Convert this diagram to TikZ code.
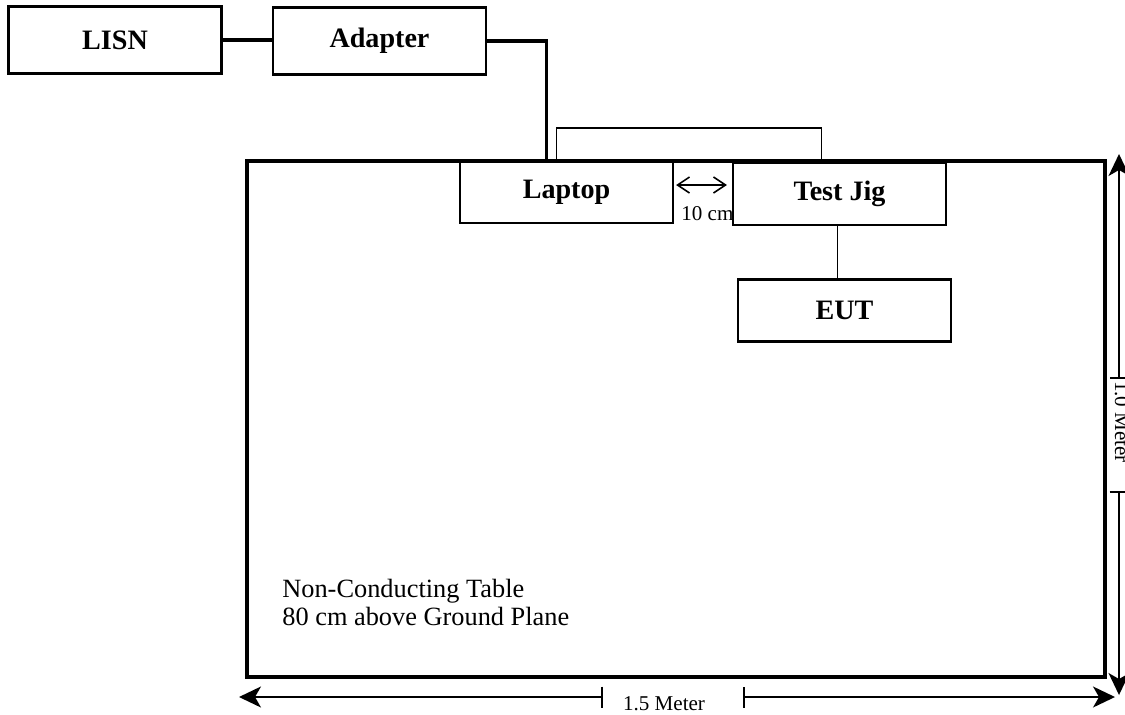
\documentclass[tikz,border=0pt]{standalone}
\usepackage{fontspec}
\setmainfont{Liberation Serif}
\usetikzlibrary{arrows.meta,positioning,calc}

\begin{document}
\begin{tikzpicture}[
    x=0.02cm, y=-0.02cm,
    box/.style={draw=black, line width=1.3pt, minimum width=4.26cm, minimum height=1.24cm,
                inner sep=0pt, font=\fontsize{16}{18}\selectfont\bfseries},
    wire/.style={line width=1.8pt},
    thinwire/.style={line width=1.1pt},
    dim/.style={line width=0.9pt},
    dimtip/.tip={Stealth[length=0.44cm, width=0.42cm, inset=0.12cm]},
    dimlabel/.style={font=\fontsize{12}{13}\selectfont, inner sep=0pt}
]
    \clip (0,0) rectangle (1125,714);

    % Non-conducting table
    \node[draw=black, line width=1.9pt, minimum width=17.16cm, minimum height=10.32cm] (table) at (676,419) {};
    \node[anchor=base west, align=left, inner sep=0pt, font=\fontsize{15}{15.4}\selectfont] (tablenote) at (282,625)
        {Non-Conducting Table\\80 cm above Ground Plane};

    % Power side
    \node[box, minimum height=1.34cm] (lisn) at (115,40) {LISN};
    \node[box, minimum height=1.34cm] (adapter) at (379.5,41) {Adapter};

    % Equipment on the table
    \node[box] (laptop) at (566.5,192) {Laptop};
    \node[box] (jig) at (839.5,194) {Test Jig};
    \node[box] (eut) at (844.5,310.5) {EUT};

    % Cables
    \draw[wire] (lisn.east) -- (lisn.east -| adapter.west);
    \draw[wire] (adapter.east) -| ($(laptop.north)+(-20,0)$);
    \draw[thinwire] ($(laptop.north)+(-10,0)$) -- ++(0,-32) -| ($(jig.north)+(-18,2)$);
    \draw[thinwire] ($(jig.south)+(-2,0)$) -- ($(jig.south |- eut.north)+(-2,0)$);

    % 10 cm spacing
    \draw[dim, {Straight Barb[length=0.24cm, width=0.32cm]}-{Straight Barb[length=0.24cm, width=0.32cm]}]
        ($(laptop.east)+(2,-7)$) -- ($(jig.west)+(-5,-9)$);
    \node[dimlabel, anchor=base west] (gaplab) at (681,220) {10 cm};

    % 1.5 Meter
    \coordinate (hl) at (239,697);
    \coordinate (ht1) at (603,697);
    \coordinate (ht2) at (743,697);
    \coordinate (hr) at (1115,697);
    \draw[dim, {dimtip}-{Bar[width=0.42cm]}] (hl) -- (ht1);
    \draw[dim, {Bar[width=0.42cm]}-{dimtip}] (ht2) -- (hr);
    \node[dimlabel, anchor=base] (widthlab) at (664,710) {1.5 Meter};

    % 1.0 Meter
    \coordinate (vt) at (1119,154);
    \coordinate (vt1) at (1119,379);
    \coordinate (vt2) at (1119,491);
    \coordinate (vb) at (1119,695);
    \draw[dim, {dimtip}-{Bar[width=0.38cm]}] (vt) -- (vt1);
    \draw[dim, {Bar[width=0.38cm]}-{dimtip}] (vt2) -- (vb);
    \node[dimlabel, anchor=base, rotate=-90] (depthlab) at (1115,422) {1.0 Meter};

\end{tikzpicture}
\end{document}
